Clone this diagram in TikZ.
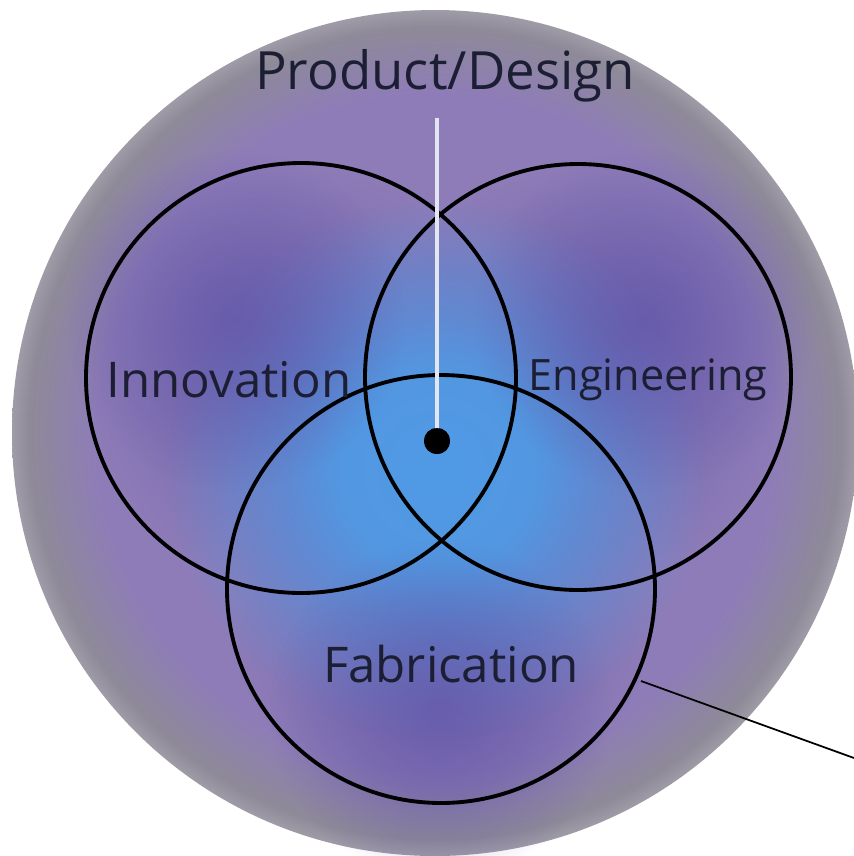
\documentclass[tikz,border=0pt]{standalone}
\usepackage{fontspec}
\setmainfont{Open Sans}
\usetikzlibrary{fadings}

\definecolor{rimgray}{RGB}{142,138,152}
\definecolor{ringpurple}{RGB}{142,124,184}
\definecolor{deeppurple}{RGB}{98,86,168}
\definecolor{glowblue}{RGB}{80,155,230}
\definecolor{stemwhite}{RGB}{226,230,240}
\definecolor{labelink}{RGB}{28,30,52}

\pgfdeclareradialshading{bigdisk}{\pgfpoint{0bp}{0bp}}{%
  color(0bp)=(ringpurple); color(20bp)=(ringpurple);
  color(24bp)=(rimgray); color(25bp)=(rimgray!85!white); color(50bp)=(white)}
\pgfdeclareradialshading{glowshape}{\pgfpointorigin}{%
  color(0bp)=(pgftransparent!0); color(9bp)=(pgftransparent!8);
  color(25bp)=(pgftransparent!100); color(50bp)=(pgftransparent!100)}
\pgfdeclarefading{softglow}{\pgfuseshading{glowshape}}
\tikzfading[name=glowfade, inner color=transparent!0, outer color=transparent!100]

\tikzset{
  venn/.style={draw=black, line width=1.1pt},
  lbl/.style={text=labelink},
}

\begin{document}
\begin{tikzpicture}[x=0.1mm,y=-0.1mm]
  \useasboundingbox (0,0) rectangle (854,856);
  % outer disk
  \shade[shading=bigdisk] (435,433) circle (423);
  % blue glow in the middle, purple towards the circle centres
  \fill[deeppurple, path fading=glowfade, fill opacity=0.7] (300,378) circle (215);
  \fill[deeppurple, path fading=glowfade, fill opacity=0.7] (578,377) circle (213);
  \fill[deeppurple, path fading=glowfade, fill opacity=0.7] (441,600) circle (214);
  \fill[glowblue, path fading=softglow] (437,470) circle (270);
  \fill[deeppurple, path fading=glowfade, fill opacity=0.75] (235,320) circle (170);
  \fill[deeppurple, path fading=glowfade, fill opacity=0.75] (645,320) circle (170);
  \fill[deeppurple, path fading=glowfade, fill opacity=0.75] (440,710) circle (170);

  \coordinate (inc) at (301,378);
  \coordinate (enc) at (578,377);
  \coordinate (fac) at (441,589);
  \draw[venn] (inc) circle (215);
  \draw[venn] (enc) circle (213);
  \draw[venn] (fac) circle (214);

  \node[lbl, font=\fontsize{15}{18}\selectfont] (design) at (445,76) {Product/Design};
  \node[lbl, font=\fontsize{14}{17}\selectfont] (innov) at (229,380) {Innovation};
  \node[lbl, font=\fontsize{12.3}{15}\selectfont] (engin) at (648,380) {Engineering};
  \node[lbl, font=\fontsize{14}{17}\selectfont] (fabr) at (451,664) {Fabrication};

  \coordinate (stem) at (437,118);
  \node[circle, fill=black, inner sep=0pt, minimum size=2.6mm] (dot) at (437,441) {};
  \draw[stemwhite, line width=0.45mm] (stem) -- (dot.center);
  \node[circle, fill=black, inner sep=0pt, minimum size=2.6mm] at (dot) {};

  \coordinate (fabtip) at (641,681);
  \coordinate (edge) at (854,758);
  \draw[black, line width=0.5pt] (fabtip) -- (edge);
\end{tikzpicture}
\end{document}
